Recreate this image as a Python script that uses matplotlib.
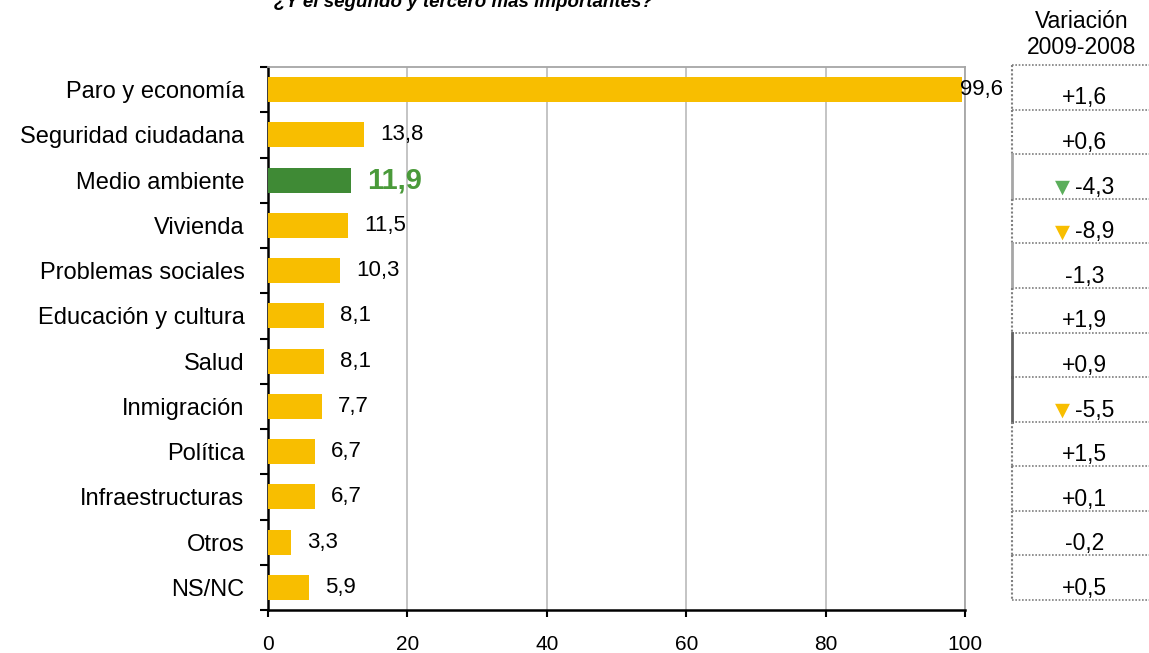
import matplotlib
matplotlib.use("Agg")
import matplotlib.pyplot as plt
import numpy as np

plt.rcParams['font.family'] = ['Liberation Sans', 'DejaVu Sans']

categorias = ['Paro y economía', 'Seguridad ciudadana', 'Medio ambiente', 'Vivienda',
              'Problemas sociales', 'Educación y cultura', 'Salud', 'Inmigración',
              'Política', 'Infraestructuras', 'Otros', 'NS/NC']
valores = [99.6, 13.8, 11.9, 11.5, 10.3, 8.1, 8.1, 7.7, 6.7, 6.7, 3.3, 5.9]
variacion = ['+1,6', '+0,6', '-4,3', '-8,9', '-1,3', '+1,9', '+0,9', '-5,5',
             '+1,5', '+0,1', '-0,2', '+0,5']
destacado = 'Medio ambiente'

AMARILLO = '#F8BE00'
VERDE = '#3F8A35'
VERDE_TXT = '#4A9A3A'
TRI_VERDE = '#5BAE5B'

fig = plt.figure(figsize=(11.49, 6.53), dpi=100)
W, H = 1149, 653

def fx(px):
    return px / W

def fy(py):
    return 1 - py / H

# bar chart
ax = fig.add_axes([fx(268), fy(610), fx(965) - fx(268), fy(67) - fy(610)])
y = np.arange(len(categorias))
colores = [VERDE if c == destacado else AMARILLO for c in categorias]
ax.barh(y, valores, height=0.55, color=colores, zorder=3)
ax.set_xlim(0, 100)
ax.set_ylim(len(categorias) - 0.5, -0.5)

for i, v in enumerate(valores):
    x = min(v + 2.3, 99.3)
    txt = f'{v:.1f}'.replace('.', ',')
    if categorias[i] == destacado:
        ax.text(x, i, txt, va='center', ha='left', fontsize=21, fontweight='bold',
                color=VERDE_TXT, zorder=4)
    else:
        ax.text(x, i, txt, va='center', ha='left', fontsize=16, color='black', zorder=4)

ax.set_xticks(np.arange(0, 101, 20))
ax.set_yticks(y)
ax.set_yticklabels(categorias)
ax.set_yticks(np.arange(-0.5, len(categorias)), minor=True)
ax.tick_params(axis='y', which='major', length=0, pad=17, labelsize=17)
ax.tick_params(axis='y', which='minor', length=6, width=1.5, direction='out')
ax.tick_params(axis='x', length=5, width=1.5, pad=13, labelsize=15)
ax.grid(axis='x', color='#BFBFBF', linewidth=1.3, zorder=0)
for s in ['left', 'bottom']:
    ax.spines[s].set_linewidth(1.8)
    ax.spines[s].set_color('black')
for s in ['top', 'right']:
    ax.spines[s].set_linewidth(1.3)
    ax.spines[s].set_color('#A6A6A6')

# variation column
tab = fig.add_axes([fx(1012), fy(600), 1 - fx(1012), fy(65) - fy(600)])
tab.set_xlim(0, 1)
n = len(variacion)
tab.set_ylim(n, 0)
tab.axis('off')
bordes = {2: ('-', '#A6A6A6', 2.0), 4: ('-', '#A6A6A6', 2.0),
          6: ('-', '#606060', 2.0), 7: ('-', '#606060', 2.0)}
for i in range(n + 1):
    tab.plot([0, 1], [i, i], color='#7F7F7F', linewidth=1.2, linestyle=(0, (1, 1)),
             clip_on=False)
for i in range(n):
    ls, col, lw = bordes.get(i, ((0, (1, 1)), '#7F7F7F', 1.5))
    tab.plot([0, 0], [i, i + 1], color=col, linewidth=lw, linestyle=ls, clip_on=False)

triangulos = {2: TRI_VERDE, 3: AMARILLO, 7: AMARILLO}
for i, t in enumerate(variacion):
    yy = i + 0.74
    if i in triangulos:
        tab.text(0.37, yy, '▼', ha='center', va='center', fontsize=14,
                 color=triangulos[i], family=['DejaVu Sans'])
        tab.text(0.46, yy, t, ha='left', va='center', fontsize=16.5)
    else:
        tab.text(0.53, yy, t, ha='center', va='center', fontsize=16.5)

fig.text(fx(1082), fy(22), 'Variación', ha='center', va='center', fontsize=16.5)
fig.text(fx(1082), fy(48), '2009-2008', ha='center', va='center', fontsize=16.5)

fig.text(fx(463), fy(7), '¿Y el segundo y tercero más importantes?', ha='center',
         va='baseline', fontsize=13.5, fontweight='bold', fontstyle='italic')

fig.savefig('out.png', dpi=100)
